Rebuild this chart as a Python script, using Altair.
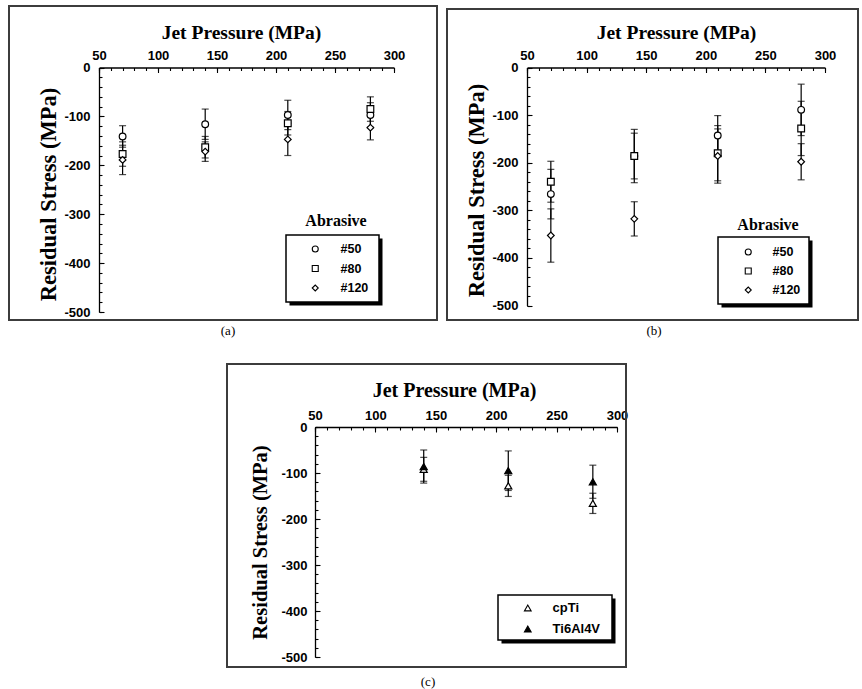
import altair as alt
import pandas as pd

# ---------------- data ----------------
pressure = [70, 140, 210, 280]
abrasive = ["#50", "#80", "#120"]

a50_mean = [-141, -116, -97, -97]
a50_err = [22, 31, 30, 25]
a80_mean = [-177, -163, -114, -85]
a80_err = [25, 22, 24, 25]
a120_mean = [-189, -172, -147, -123]
a120_err = [30, 20, 33, 25]

b50_mean = [-266, -186, -143, -89]
b50_err = [52, 48, 42, 54]
b80_mean = [-240, -186, -180, -128]
b80_err = [43, 56, 58, 57]
b120_mean = [-353, -318, -186, -198]
b120_err = [56, 36, 57, 38]

pressure_c = [140, 210, 280]
alloys = ["cpTi", "Ti6Al4V"]
cpti_mean = [-92, -128, -166]
cpti_err = [26, 23, 22]
ti64_mean = [-86, -95, -119]
ti64_err = [36, 43, 36]

x_major = [50, 100, 150, 200, 250, 300]
x_minor = list(range(50, 301, 10))
y_major = [0, -100, -200, -300, -400, -500]
y_minor = list(range(0, -501, -20))

x_title = "Jet Pressure (MPa)"
y_title = "Residual Stress (MPa)"
legend_title = "Abrasive"
panel_labels = ["(a)", "(b)", "(c)"]

# ---------------- layout ----------------
W, H = 862, 689
SANS = "Liberation Sans"
SERIF = "Liberation Serif"


def make_df(xs, names, means, errs):
    rows = []
    for name, m, e in zip(names, means, errs):
        for x, mv, ev in zip(xs, m, e):
            rows.append({"p": x, "s": mv, "lo": mv - ev, "hi": mv + ev, "series": name})
    return pd.DataFrame(rows)


one = pd.DataFrame({"k": [0]})


def text_layer(txt, x, y, font, size, weight="normal"):
    return alt.Chart(pd.DataFrame({"t": [txt]})).mark_text(
        font=font, fontSize=size, fontWeight=weight, color="black",
        align="center", baseline="middle"
    ).encode(x=alt.value(x), y=alt.value(y), text="t:N")


def rect_layer(x0, x1, y0, y1, **kw):
    return alt.Chart(one).mark_rect(**kw).encode(
        x=alt.value(x0), x2=alt.value(x1), y=alt.value(y0), y2=alt.value(y1)
    )


def panel(df, g, names, shapes, fills, legend):
    xs = alt.Scale(domain=[50, 300], range=[g["x0"], g["x1"]], nice=False, zero=False)
    ys = alt.Scale(domain=[-500, 0], range=[g["y1"], g["y0"]], nice=False, zero=False)
    base = alt.Chart(df)

    main_x = alt.Axis(
        orient="top", offset=-g["y0"], values=x_major, title=x_title,
        titleFont=SERIF, titleFontSize=g["txs"], titleFontWeight="bold", titleColor="black",
        titleX=g["tx"], titleY=g["ty"] - g["y0"], titleAlign="center", titleBaseline="middle",
        labelFont=SANS, labelFontSize=13, labelFontWeight="bold", labelColor="black",
        labelPadding=5, labelFlush=False, labelOverlap=False,
        ticks=False, tickSize=0, domain=True, domainColor="black", domainWidth=1.3, grid=False,
        labelExpr="'' + datum.value",
    )
    main_y = alt.Axis(
        orient="left", offset=-g["x0"], values=y_major, title=y_title,
        titleFont=SERIF, titleFontSize=g["tys"], titleFontWeight="bold", titleColor="black",
        titleX=g["yx"] - g["x0"], titleY=g["yy"], titleAngle=270,
        titleAlign="center", titleBaseline="middle",
        labelFont=SANS, labelFontSize=13, labelFontWeight="bold", labelColor="black",
        labelPadding=g["lp"], labelOverlap=False,
        ticks=False, tickSize=0, domain=True, domainColor="black", domainWidth=1.3, grid=False,
        labelExpr="'' + datum.value",
    )
    tick_common = dict(labels=False, domain=False, grid=False, title=None,
                       tickColor="black", tickWidth=1.1)
    maj_x = alt.Axis(orient="bottom", offset=g["y0"] - H, values=x_major, tickSize=5, **tick_common)
    min_x = alt.Axis(orient="bottom", offset=g["y0"] - H, values=x_minor, tickSize=3, **tick_common)
    maj_y = alt.Axis(orient="right", offset=g["x0"] - W, values=y_major, tickSize=5, **tick_common)
    min_y = alt.Axis(orient="right", offset=g["x0"] - W, values=y_minor, tickSize=3, **tick_common)

    rules = base.mark_rule(color="black", strokeWidth=1.2).encode(
        x=alt.X("p:Q", scale=xs, axis=main_x),
        y=alt.Y("lo:Q", scale=ys, axis=main_y),
        y2="hi:Q",
    )
    caps_hi = base.mark_tick(orient="horizontal", size=7, thickness=1.2, color="black").encode(
        x=alt.X("p:Q", scale=xs, axis=maj_x),
        y=alt.Y("hi:Q", scale=ys, axis=maj_y),
    )
    caps_lo = base.mark_tick(orient="horizontal", size=7, thickness=1.2, color="black").encode(
        x=alt.X("p:Q", scale=xs, axis=min_x),
        y=alt.Y("lo:Q", scale=ys, axis=min_y),
    )
    pts = base.mark_point(filled=True, strokeWidth=1.2, size=g["ms"], opacity=1).encode(
        x=alt.X("p:Q", scale=xs, axis=None),
        y=alt.Y("s:Q", scale=ys, axis=None),
        shape=alt.Shape("series:N", scale=alt.Scale(domain=names, range=shapes), legend=legend),
        fill=alt.Fill("series:N", scale=alt.Scale(domain=names, range=fills), legend=legend),
        stroke=alt.Stroke("series:N", scale=alt.Scale(domain=names, range=["black"] * len(names)),
                          legend=legend),
    )
    return [rules, caps_hi, caps_lo, pts]


def make_legend(sym_x, lab_x, row0, step, fs, ssize):
    sw = ssize ** 0.5
    lx = sym_x - sw
    return alt.Legend(
        orient="none", legendX=lx, legendY=row0 - fs / 2, title=None, padding=0,
        rowPadding=step - fs, symbolOffset=0, labelOffset=lab_x - lx - 2 * sw,
        labelFont=SANS, labelFontSize=fs, labelFontWeight="bold", labelColor="black",
        symbolSize=ssize, symbolStrokeWidth=1.1,
    )


df_a = make_df(pressure, abrasive, [a50_mean, a80_mean, a120_mean], [a50_err, a80_err, a120_err])
df_b = make_df(pressure, abrasive, [b50_mean, b80_mean, b120_mean], [b50_err, b80_err, b120_err])
df_c = make_df(pressure_c, alloys, [cpti_mean, ti64_mean], [cpti_err, ti64_err])

abr_shapes = ["circle", "square", "diamond"]
abr_fills = ["white", "white", "white"]
alloy_shapes = ["triangle-up", "triangle-up"]
alloy_fills = ["white", "black"]

GA = dict(x0=99, x1=394, y0=67.5, y1=312, tx=241, ty=32, yx=48, yy=194, txs=19.5, tys=22.5, lp=9, ms=45)
GB = dict(x0=527, x1=825, y0=67.5, y1=305.5, tx=676, ty=32, yx=476, yy=190, txs=19.5, tys=22.5, lp=9, ms=45)
GC = dict(x0=315, x1=617, y0=427, y1=657, tx=454, ty=390, yx=260, yy=542, txs=20, tys=20.5, lp=8, ms=50)

layers = []
# panel frames
frame_kw = dict(fill="white", fillOpacity=0, stroke="#3c3c3c", strokeWidth=2)
layers.append(rect_layer(9, 437, 6, 320, **frame_kw))
layers.append(rect_layer(447, 858, 9, 320, **frame_kw))
layers.append(rect_layer(227, 626, 364, 667, **frame_kw))

# legend boxes (shadow + box)
for (bx0, bx1, by0, by1) in [(286, 379, 235, 302), (718, 809, 237, 304), (498, 612, 595, 640)]:
    layers.append(rect_layer(bx0 + 3.5, bx1 + 3.5, by0 + 3.5, by1 + 3.5, fill="black"))
    layers.append(rect_layer(bx0, bx1, by0, by1, fill="white", stroke="black", strokeWidth=1.5))

layers += panel(df_a, GA, abrasive, abr_shapes, abr_fills, make_legend(315, 340, 249, 19, 12.5, 36))
layers += panel(df_b, GB, abrasive, abr_shapes, abr_fills, make_legend(748, 772, 252, 18.5, 12.5, 36))
layers += panel(df_c, GC, alloys, alloy_shapes, alloy_fills, make_legend(528, 553, 608, 20, 13, 45))

layers.append(text_layer(legend_title, 336, 221, SERIF, 16, "bold"))
layers.append(text_layer(legend_title, 768, 225, SERIF, 16, "bold"))
layers.append(text_layer(panel_labels[0], 228, 331, SERIF, 13))
layers.append(text_layer(panel_labels[1], 654, 331, SERIF, 13))
layers.append(text_layer(panel_labels[2], 428, 682, SERIF, 13))

chart = alt.layer(*layers).resolve_scale(
    x="independent", y="independent", shape="independent", fill="independent", stroke="independent"
).resolve_axis(
    x="independent", y="independent"
).resolve_legend(
    shape="independent", fill="independent", stroke="independent"
).properties(
    width=W, height=H, padding=0, background="white",
    autosize=alt.AutoSizeParams(type="none"),
).configure_view(stroke=None)

chart.save("out.html", embed_options={"renderer": "svg", "actions": False})
